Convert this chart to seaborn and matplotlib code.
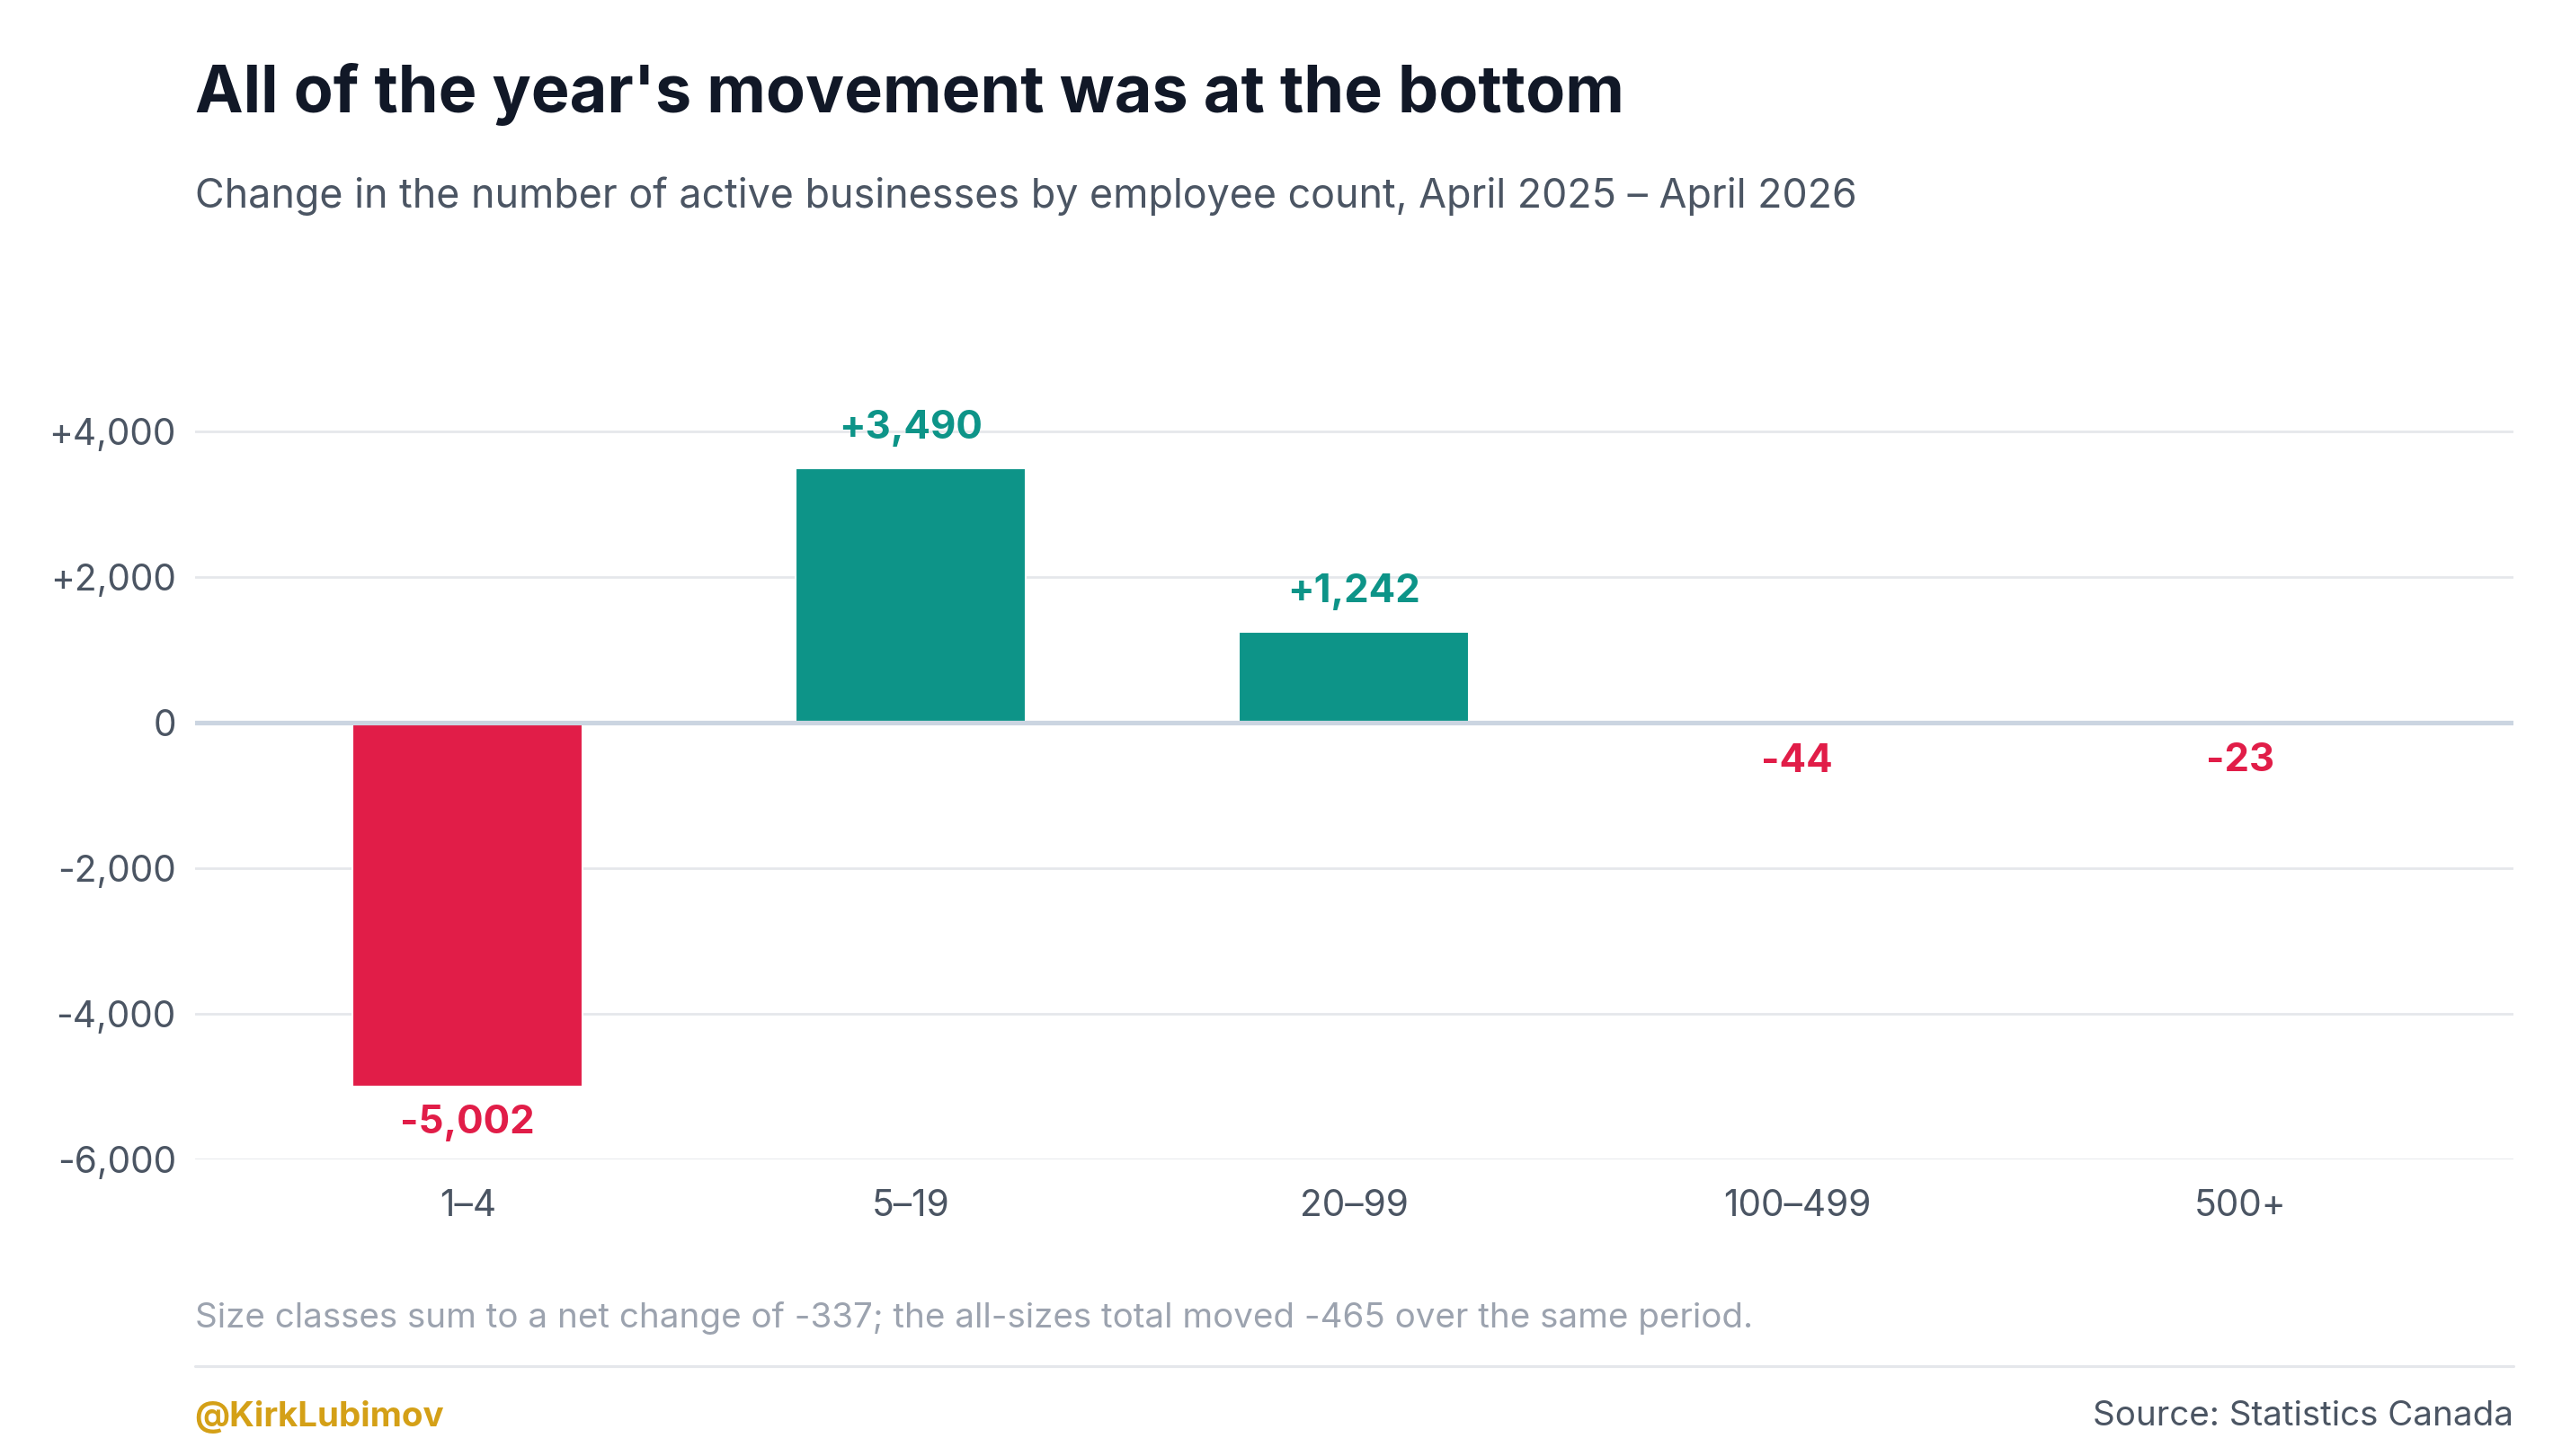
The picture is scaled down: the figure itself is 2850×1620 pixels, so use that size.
import pandas as pd
import seaborn as sns
import matplotlib.pyplot as plt

sizes = ["1–4", "5–19", "20–99", "100–499", "500+"]
changes = [-5002, 3490, 1242, -44, -23]
yticks = [-6000, -4000, -2000, 0, 2000, 4000]
ytick_labels = ["-6,000", "-4,000", "-2,000", "0", "+2,000", "+4,000"]

RED = "#E11D48"
TEAL = "#0D9488"

df = pd.DataFrame({"size": sizes, "change": changes})
colors = [TEAL if v > 0 else RED for v in changes]

sns.set_style("white")
plt.rcParams["font.family"] = ["Inter", "DejaVu Sans"]

fig = plt.figure(figsize=(19, 10.8), dpi=150)
ax = fig.add_axes([0.076, 0.204, 0.905, 0.52])

sns.barplot(data=df, x="size", y="change", hue="size", palette=colors,
            width=0.52, legend=False, ax=ax, saturation=1)

ax.set_xlim(-0.616, 4.616)
ax.set_ylim(-6000, 4400)
ax.set_yticks(yticks)
ax.set_yticklabels(ytick_labels)
ax.grid(axis="y", color="#E5E7EB", linewidth=1.3)
ax.set_axisbelow(True)
ax.axhline(0, color="#CBD5E1", linewidth=2.5, zorder=3)
for s in ax.spines.values():
    s.set_visible(False)
ax.tick_params(axis="both", length=0, labelsize=19.5, labelcolor="#4B5563", pad=10)
ax.tick_params(axis="x", pad=16)
ax.set_xlabel("")
ax.set_ylabel("")

for i, v in enumerate(changes):
    c = TEAL if v > 0 else RED
    lab = f"{v:+,}"
    if v > 0:
        ax.text(i, v + 300, lab, ha="center", va="bottom", fontsize=21,
                fontweight="bold", color=c)
    else:
        ax.text(i, min(v, 0) - 250, lab, ha="center", va="top", fontsize=21,
                fontweight="bold", color=c)

fig.text(0.076, 0.935, "All of the year's movement was at the bottom",
         fontsize=34.5, fontweight="bold", color="#111827", va="center")
fig.text(0.076, 0.865, "Change in the number of active businesses by employee count, April 2025 – April 2026",
         fontsize=21.5, color="#4B5563", va="center")
fig.text(0.076, 0.095, "Size classes sum to a net change of -337; the all-sizes total moved -465 over the same period.",
         fontsize=18.5, color="#9CA3AF", va="center")
fig.add_artist(plt.Line2D([0.076, 0.981], [0.062, 0.062], color="#E5E7EB", linewidth=1.5))
fig.text(0.076, 0.027, "@KirkLubimov", fontsize=18.5, fontweight="bold",
         color="#D4A017", va="center")
fig.text(0.981, 0.027, "Source: Statistics Canada", fontsize=18.5,
         color="#4B5563", va="center", ha="right")

fig.savefig("out.png", dpi=150, facecolor="white")
